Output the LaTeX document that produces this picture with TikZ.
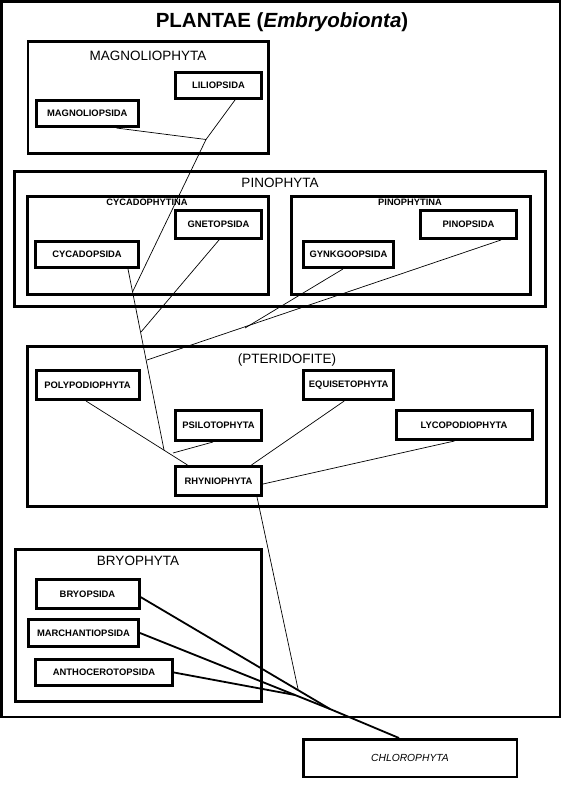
\documentclass[tikz,border=0pt]{standalone}
\usepackage{fontspec}
\setmainfont{Liberation Sans}
\usepackage{tikz}
\usetikzlibrary{positioning, shapes, arrows.meta}

\begin{document}
\begin{tikzpicture}[
    x=1pt, y=-1pt,
    taxon/.style={rectangle, draw, line width=3pt, fill=white, inner sep=0pt, align=center, font=\bfseries\fontsize{9.4}{11}\selectfont},
    outgroup/.style={taxon, line width=2.5pt, font=\itshape\fontsize{10.3}{12}\selectfont},
    groupbox/.style={draw, line width=2.6pt},
    grouptitle/.style={anchor=base, font=\fontsize{13.5}{15}\selectfont},
    subtitle/.style={anchor=base, font=\bfseries\fontsize{9.3}{11}\selectfont},
    link/.style={line width=0.7pt},
    mosslink/.style={line width=1.8pt}
]
\useasboundingbox (0,0) rectangle (571,799);

% Frames
\draw[groupbox] (1.5,1.5) rectangle (560,717);
\draw[groupbox] (28,41.3) rectangle (268.3,153.7);
\draw[groupbox] (14.3,171.3) rectangle (545.7,306.7);
\draw[groupbox] (27.3,196.3) rectangle (268.3,294.7);
\draw[groupbox] (291.3,196.3) rectangle (530.7,294.7);
\draw[groupbox] (27.5,346.3) rectangle (546.2,506.7);
\draw[groupbox] (15.3,549.3) rectangle (261.7,701.7);

% Titles
\node[anchor=base, font=\bfseries\fontsize{20.5}{24}\selectfont] (plantae) at (282,28) {PLANTAE (\textit{Embryobionta})};
\node[grouptitle] (magnoliophyta) at (148,61) {MAGNOLIOPHYTA};
\node[grouptitle] (pinophyta) at (280,188) {PINOPHYTA};
\node[subtitle] (cycadophytina) at (147,206) {CYCADOPHYTINA};
\node[subtitle] (pinophytina) at (410,206) {PINOPHYTINA};
\node[grouptitle] (pteridofite) at (287,363) {(PTERIDOFITE)};
\node[grouptitle] (bryophyta) at (138,565) {BRYOPHYTA};

% Magnoliophyta
\node[taxon, minimum width=86pt, minimum height=26pt] (liliopsida) at (218.5,85.5) {LILIOPSIDA};
\node[taxon, minimum width=102pt, minimum height=26pt] (magnoliopsida) at (87.3,113.5) {MAGNOLIOPSIDA};

% Pinophyta
\node[taxon, minimum width=86pt, minimum height=28pt] (gnetopsida) at (218.5,224.5) {GNETOPSIDA};
\node[taxon, minimum width=103pt, minimum height=26pt] (cycadopsida) at (87,254.5) {CYCADOPSIDA};
\node[taxon, minimum width=96pt, minimum height=28pt] (pinopsida) at (468.5,224.5) {PINOPSIDA};
\node[taxon, minimum width=90pt, minimum height=26pt] (gynkgoopsida) at (348.5,254.5) {GYNKGOOPSIDA};

% Pteridofite
\node[taxon, minimum width=103pt, minimum height=29pt] (polypodiophyta) at (87.5,385) {POLYPODIOPHYTA};
\node[taxon, minimum width=90pt, minimum height=29pt] (equisetophyta) at (348.7,385) {EQUISETOPHYTA};
\node[taxon, minimum width=86pt, minimum height=30pt] (psilotophyta) at (218.5,425.5) {PSILOTOPHYTA};
\node[taxon, minimum width=136pt, minimum height=29pt] (lycopodiophyta) at (464,425) {LYCOPODIOPHYTA};
\node[taxon, minimum width=86pt, minimum height=29pt] (rhyniophyta) at (218.5,481) {RHYNIOPHYTA};

% Bryophyta
\node[taxon, minimum width=103pt, minimum height=29pt] (bryopsida) at (87.5,594) {BRYOPSIDA};
\node[taxon, minimum width=110pt, minimum height=27pt] (marchantiopsida) at (83.5,633) {MARCHANTIOPSIDA};
\node[taxon, minimum width=137pt, minimum height=26pt] (anthocerotopsida) at (104,672.5) {ANTHOCEROTOPSIDA};

% Chlorophyta
\node[outgroup, minimum width=213.5pt, minimum height=37.5pt] (chlorophyta) at (410,758) {CHLOROPHYTA};

% Junctions
\coordinate (jmag) at (206,139.5);
\coordinate (jcyc) at (132.5,292);
\coordinate (jgne) at (141,332);
\coordinate (jgyn) at (245,328);
\coordinate (jpin) at (147,360);
\coordinate (jrhy) at (164,450);
\coordinate (jpsi) at (173,453);
\coordinate (jrb) at (298,689);
\coordinate (jmar) at (295,695);
\coordinate (jbry) at (330,709);

% Edges
\draw[link] ([xshift=29pt]magnoliopsida.south) -- (jmag);
\draw[link] ([xshift=16.5pt]liliopsida.south) -- (jmag) -- (jcyc);
\draw[link] ([xshift=41pt]cycadopsida.south) -- (jrhy);
\draw[link] ([xshift=0.5pt]gnetopsida.south) -- (jgne);
\draw[link] ([xshift=-5.5pt]gynkgoopsida.south) -- (jgyn);
\draw[link] ([xshift=32.5pt]pinopsida.south) -- (jpin);
\draw[link] ([xshift=-1.5pt]polypodiophyta.south) -- ([xshift=-31pt]rhyniophyta.north);
\draw[link] ([xshift=-5.5pt]psilotophyta.south) -- (jpsi);
\draw[link] ([xshift=-4.5pt]equisetophyta.south) -- ([xshift=33pt]rhyniophyta.north);
\draw[link] ([xshift=-9.5pt]lycopodiophyta.south) -- ([yshift=-3pt]rhyniophyta.east);
\draw[link] ([xshift=38.5pt]rhyniophyta.south) -- (jrb);
\draw[mosslink] ([yshift=-3pt]bryopsida.east) -- (jbry);
\draw[mosslink] (marchantiopsida.east) -- (jbry);
\draw[mosslink] (anthocerotopsida.east) -- (jmar);
\draw[mosslink] (jbry) -- ([xshift=-11pt]chlorophyta.north);

\end{tikzpicture}
\end{document}
